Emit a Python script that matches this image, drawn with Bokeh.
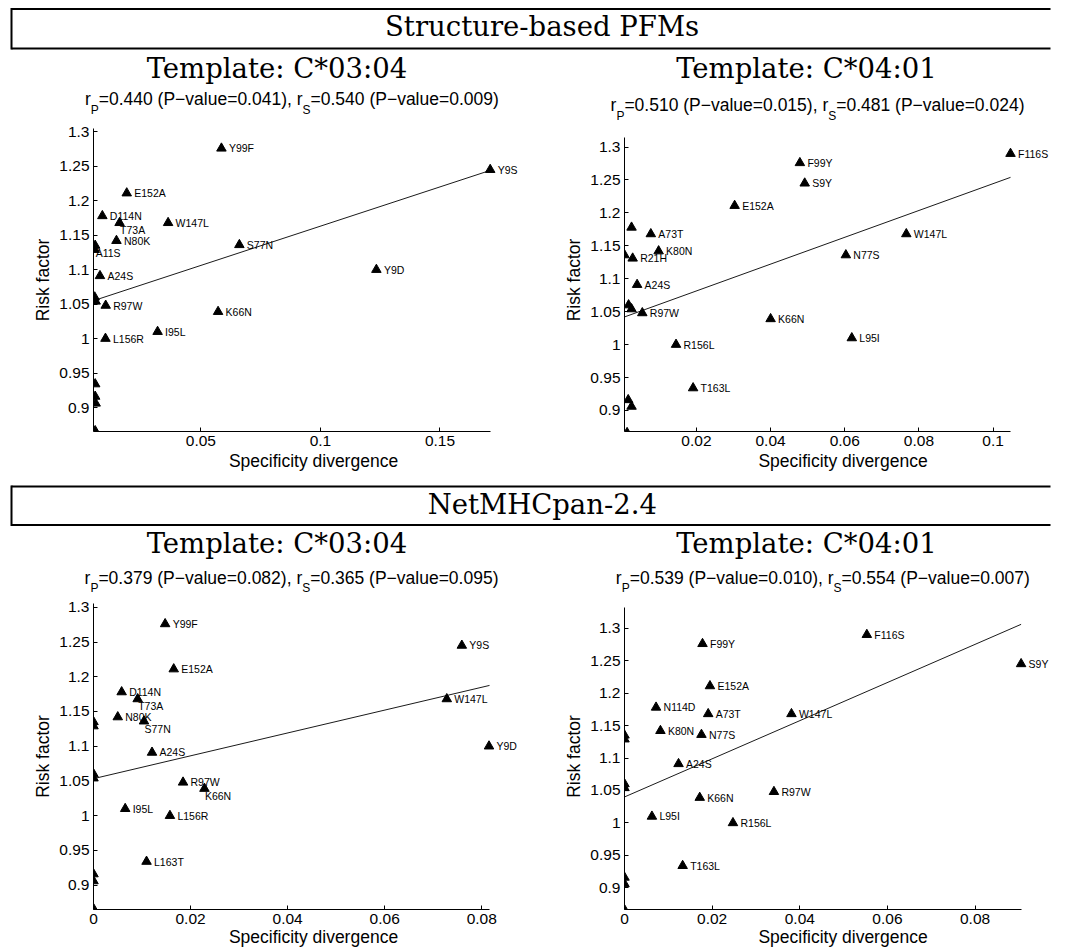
from bokeh.plotting import figure
from bokeh.models import Range1d, FixedTicker, LabelSet, ColumnDataSource
from bokeh.layouts import column, row
from bokeh.embed import file_html
from bokeh.resources import INLINE
from bokeh.core.properties import value

# ---------------- data ----------------
header_top = "Structure-based PFMs"
header_bottom = "NetMHCpan-2.4"
x_label = "Specificity divergence"
y_label = "Risk factor"

y_ticks = [0.9, 0.95, 1.0, 1.05, 1.1, 1.15, 1.2, 1.25, 1.3]
y_tick_labels = ["0.9", "0.95", "1", "1.05", "1.1", "1.15", "1.2", "1.25", "1.3"]

# Panel 1: Structure-based PFMs, template C*03:04
p1_title = "Template: C*03:04"
p1_stats = [0.440, 0.041, 0.540, 0.009]
p1_labels = ["Y99F", "Y9S", "E152A", "D114N", "T73A", "W147L", "N80K", "S77N", "A11S", "",
             "Y9D", "A24S", "", "", "R97W", "K66N", "I95L", "L156R", "", "", "", ""]
p1_x = [0.0586, 0.1710, 0.0190, 0.0088, 0.0160, 0.0363, 0.0147, 0.0661, 0.0058, 0.0056,
        0.1234, 0.0078, 0.0056, 0.0060, 0.0102, 0.0572, 0.0319, 0.0101, 0.0058, 0.0058, 0.0060, 0.0058]
p1_y = [1.276, 1.245, 1.211, 1.178, 1.168, 1.168, 1.142, 1.136, 1.135, 1.129,
        1.100, 1.091, 1.060, 1.054, 1.048, 1.039, 1.010, 1.000, 0.934, 0.916, 0.906, 0.866]
p1_fit_x = [0.0051, 0.1710]
p1_fit_y = [1.055, 1.244]
p1_xlim = [0.0051, 0.1710]
p1_ylim = [0.8652, 1.3048]
p1_xticks = [0.05, 0.1, 0.15]
p1_xtick_labels = ["0.05", "0.1", "0.15"]

# Panel 2: Structure-based PFMs, template C*04:01
p2_title = "Template: C*04:01"
p2_stats = [0.510, 0.015, 0.481, 0.024]
p2_labels = ["F99Y", "F116S", "S9Y", "E152A", "", "A73T", "K80N", "", "R21H", "A24S",
             "", "", "R97W", "K66N", "R156L", "L95I", "T163L", "W147L", "N77S", "", "", ""]
p2_x = [0.0479, 0.1047, 0.0492, 0.0303, 0.0025, 0.0077, 0.0098, 0.0006, 0.0028, 0.0040,
        0.0017, 0.0025, 0.0054, 0.0400, 0.0145, 0.0619, 0.0191, 0.0766, 0.0603, 0.0016, 0.0025, 0.0013]
p2_y = [1.276, 1.290, 1.245, 1.211, 1.178, 1.168, 1.142, 1.136, 1.131, 1.091,
        1.060, 1.054, 1.048, 1.039, 1.000, 1.010, 0.934, 1.168, 1.136, 0.916, 0.906, 0.866]
p2_fit_x = [0.0006, 0.1047]
p2_fit_y = [1.042, 1.254]
p2_xlim = [0.0006, 0.1047]
p2_ylim = [0.868, 1.315]
p2_xticks = [0.02, 0.04, 0.06, 0.08, 0.1]
p2_xtick_labels = ["0.02", "0.04", "0.06", "0.08", "0.1"]

# Panel 3: NetMHCpan-2.4, template C*03:04
p3_title = "Template: C*03:04"
p3_stats = [0.379, 0.082, 0.365, 0.095]
p3_labels = ["Y99F", "Y9S", "E152A", "D114N", "T73A", "W147L", "N80K", "S77N", "", "",
             "Y9D", "A24S", "", "", "R97W", "K66N", "I95L", "L156R", "L163T", "", "", ""]
p3_x = [0.01476, 0.0759, 0.01653, 0.0058, 0.0091, 0.0728, 0.0050, 0.0104, 0.0, 0.0,
        0.0815, 0.01206, 0.0, 0.0, 0.01845, 0.02286, 0.00653, 0.01575, 0.01093, 0.0, 0.0, 0.0]
p3_y = [1.276, 1.245, 1.211, 1.178, 1.168, 1.168, 1.142, 1.136, 1.135, 1.129,
        1.100, 1.091, 1.060, 1.054, 1.048, 1.039, 1.010, 1.000, 0.934, 0.916, 0.906, 0.866]
p3_fit_x = [0.0, 0.0816]
p3_fit_y = [1.0533, 1.1875]
p3_xlim = [0.0, 0.0816]
p3_ylim = [0.865, 1.305]
p3_xticks = [0.0, 0.02, 0.04, 0.06, 0.08]
p3_xtick_labels = ["0", "0.02", "0.04", "0.06", "0.08"]

# Panel 4: NetMHCpan-2.4, template C*04:01
p4_title = "Template: C*04:01"
p4_stats = [0.539, 0.010, 0.554, 0.007]
p4_labels = ["F99Y", "F116S", "S9Y", "E152A", "N114D", "A73T", "W147L", "K80N", "N77S", "", "",
             "A24S", "", "", "R97W", "K66N", "L95I", "R156L", "T163L", "", "", ""]
p4_x = [0.0178, 0.0553, 0.0905, 0.0195, 0.0072, 0.0191, 0.0381, 0.0082, 0.01756, 0.0, 0.0,
        0.01233, 0.0, 0.0, 0.0341, 0.01717, 0.00626, 0.02475, 0.01327, 0.0, 0.0, 0.0]
p4_y = [1.276, 1.290, 1.245, 1.211, 1.178, 1.168, 1.168, 1.142, 1.136, 1.135, 1.129,
        1.091, 1.060, 1.054, 1.048, 1.039, 1.010, 1.000, 0.934, 0.916, 0.906, 0.866]
p4_fit_x = [0.0, 0.0905]
p4_fit_y = [1.040, 1.306]
p4_xlim = [0.0, 0.0905]
p4_ylim = [0.8666, 1.3324]
p4_xticks = [0.0, 0.02, 0.04, 0.06, 0.08]
p4_xtick_labels = ["0", "0.02", "0.04", "0.06", "0.08"]

# ---------------- layout (pixel positions on the page) ----------------
SANS = "Liberation Sans"
SERIF = "DejaVu Serif"
SERIF_SIZE = 27.5
STAT_SIZE = 17.5
SUB_SIZE = 12.0
SUB_DROP = 8.5
MID_SANS = 0.3465      # baseline -> middle, Liberation Sans (em)
MID_SERIF = 0.346      # baseline -> middle, DejaVu Serif (em)

TOTAL_W = 1065

panel_cfg = {
    # fig: (x, y, w, h); frame: (left, top, width, height)
    # x_end / y_top: page pixel of xlim[1] / ylim[1]
    "p1": dict(fig=(0, 123, 538, 361), frame=(93, 128, 440, 303), x_end=489.7, y_top=128.0,
               title=(276.5, 77.0), stats=105.0, below={"T73A", "A11S"}, xlab_standoff=2),
    "p2": dict(fig=(538, 123, 527, 361), frame=(624, 128, 437, 303), x_end=1010.0, y_top=136.7,
               title=(806.0, 77.0), stats=111.0, below=set(), xlab_standoff=2),
    "p3": dict(fig=(0, 595, 538, 355), frame=(93, 603, 440, 306), x_end=489.0, y_top=603.3,
               title=(276.5, 552.0), stats=583.3, below={"T73A", "S77N", "K66N"}, xlab_standoff=0),
    "p4": dict(fig=(538, 595, 527, 355), frame=(624, 603, 437, 306), x_end=1020.6, y_top=606.7,
               title=(806.0, 552.0), stats=583.3, below=set(), xlab_standoff=0),
}

ARIAL_W = {' ': 278, '(': 333, ')': 333, ',': 278, '.': 278, '=': 584, 'P': 667, 'S': 667,
           'a': 556, 'e': 556, 'l': 222, 'r': 333, 'u': 556, 'v': 500, '\u2212': 584}


def text_width(s, size):
    return sum(ARIAL_W.get(ch, 556) for ch in s) * size / 1000.0


def make_panel(cfg, labels, xs, ys, fit_x, fit_y, xlim, ylim, xticks, xtick_labels):
    ox, oy, W, H = cfg["fig"]
    fl, ft, fw, fh = cfg["frame"]
    fb = ft + fh
    ppx = (cfg["x_end"] - fl) / (xlim[1] - xlim[0])
    ppy = (fb - cfg["y_top"]) / (ylim[1] - ylim[0])
    x0 = xlim[0]
    x1 = x0 + fw / ppx
    y0 = ylim[0]
    y1 = ylim[1] + (cfg["y_top"] - ft) / ppy

    p = figure(width=W, height=H, x_range=Range1d(x0, x1), y_range=Range1d(y0, y1),
               output_backend="svg", toolbar_location=None,
               min_border_left=fl - ox, min_border_top=ft - oy,
               min_border_right=ox + W - fl - fw, min_border_bottom=oy + H - fb)
    p.grid.visible = False
    p.outline_line_color = None
    p.background_fill_color = "white"
    p.border_fill_color = "white"

    xa = p.xaxis[0]
    ya = p.yaxis[0]
    xa.bounds = (xlim[0], xlim[1])
    ya.bounds = (ylim[0], ylim[1])
    xa.ticker = FixedTicker(ticks=xticks)
    ya.ticker = FixedTicker(ticks=y_ticks)
    xa.major_label_overrides = dict(zip(xticks, xtick_labels))
    ya.major_label_overrides = dict(zip(y_ticks, y_tick_labels))
    for ax in (xa, ya):
        ax.axis_line_color = "black"
        ax.axis_line_width = 1
        ax.major_tick_line_color = "black"
        ax.major_tick_line_width = 1
        ax.major_tick_in = 4
        ax.major_tick_out = 0
        ax.minor_tick_line_color = None
        ax.major_label_text_font = SANS
        ax.major_label_text_font_size = "15.5px"
        ax.major_label_text_color = "black"
        ax.major_label_standoff = 4
        ax.axis_label_text_font = SANS
        ax.axis_label_text_font_size = "17.5px"
        ax.axis_label_text_font_style = "normal"
        ax.axis_label_text_color = "black"
    ya.axis_label = y_label
    ya.axis_label_standoff = 3
    xa.axis_label = x_label
    xa.axis_label_standoff = cfg["xlab_standoff"]

    # regression line
    p.line(fit_x, fit_y, line_color="#1a1a1a", line_width=1)

    # points
    src = ColumnDataSource(dict(x=xs, y=ys, label=labels))
    p.scatter("x", "y", source=src, marker="triangle", size=9.5,
              fill_color="black", line_color="black")

    # point labels (most to the right of the point, a few just below it)
    nx, ny, nl, bx, by, bl = [], [], [], [], [], []
    for lab, xv, yv in zip(labels, xs, ys):
        if not lab:
            continue
        if lab in cfg["below"]:
            bx.append(xv)
            by.append(yv - 7.5 / ppy)
            bl.append(lab)
        else:
            nx.append(xv)
            ny.append(yv)
            nl.append(lab)
    for sx, sy, sl, off in ((nx, ny, nl, 7.5), (bx, by, bl, 0.5)):
        if not sl:
            continue
        ls = LabelSet(x="x", y="y", text="label", x_offset=off,
                      source=ColumnDataSource(dict(x=sx, y=sy, label=sl)),
                      text_font=value(SANS), text_font_size="10.5px",
                      text_baseline="middle", text_align="left", text_color="black")
        p.add_layout(ls)
    return p


def make_header(text, top, H, box_top, box_bottom, text_cx, text_base, panels):
    """A strip holding the boxed section header and the two panel titles."""
    p = figure(width=TOTAL_W, height=H, x_range=Range1d(0, TOTAL_W), y_range=Range1d(H, 0),
               output_backend="svg", toolbar_location=None, min_border=0,
               x_axis_type=None, y_axis_type=None)
    p.grid.visible = False
    p.outline_line_color = None
    p.background_fill_color = "white"
    p.border_fill_color = "white"
    bt, bb = box_top - top, box_bottom - top
    right = 1050
    # open-ended box: top, bottom and left edges
    p.segment(x0=[11, 11, 11], y0=[bt, bb, bt - 1], x1=[right, right, 11], y1=[bt, bb, bb + 1],
              line_color="black", line_width=2)
    p.text(x=[text_cx], y=[text_base - top - MID_SERIF * SERIF_SIZE], text=[text],
           text_font=value(SERIF), text_font_size="%gpx" % SERIF_SIZE,
           text_align="center", text_baseline="middle", text_color="black")
    for cfg, title, stats in panels:
        tcx, tby = cfg["title"]
        p.text(x=[tcx], y=[tby - top - MID_SERIF * SERIF_SIZE], text=[title],
               text_font=value(SERIF), text_font_size="%gpx" % SERIF_SIZE,
               text_align="center", text_baseline="middle", text_color="black")
        rp, pp, rs, ps = stats
        segs = [("r", False), ("P", True),
                ("=%.3f (P\u2212value=%.3f), r" % (rp, pp), False), ("S", True),
                ("=%.3f (P\u2212value=%.3f)" % (rs, ps), False)]
        widths = [text_width(s, SUB_SIZE if sub else STAT_SIZE) for s, sub in segs]
        fl = cfg["frame"][0]
        cx = (fl + cfg["x_end"]) / 2.0
        xcur = cx - sum(widths) / 2.0
        base = cfg["stats"] - top
        for (s, sub), w in zip(segs, widths):
            if sub:
                yy = base + SUB_DROP - MID_SANS * SUB_SIZE
                fs = SUB_SIZE
            else:
                yy = base - MID_SANS * STAT_SIZE
                fs = STAT_SIZE
            p.text(x=[xcur], y=[yy], text=[s], text_font=value(SANS),
                   text_font_size="%gpx" % fs, text_align="left",
                   text_baseline="middle", text_color="black")
            xcur += w
    return p


h1 = make_header(header_top, 0, 123, 8.5, 48.0, 541.6, 35.0,
                 [(panel_cfg["p1"], p1_title, p1_stats), (panel_cfg["p2"], p2_title, p2_stats)])
h2 = make_header(header_bottom, 484, 111, 486.0, 524.5, 541.8, 513.3,
                 [(panel_cfg["p3"], p3_title, p3_stats), (panel_cfg["p4"], p4_title, p4_stats)])

p1 = make_panel(panel_cfg["p1"], p1_labels, p1_x, p1_y, p1_fit_x, p1_fit_y,
                p1_xlim, p1_ylim, p1_xticks, p1_xtick_labels)
p2 = make_panel(panel_cfg["p2"], p2_labels, p2_x, p2_y, p2_fit_x, p2_fit_y,
                p2_xlim, p2_ylim, p2_xticks, p2_xtick_labels)
p3 = make_panel(panel_cfg["p3"], p3_labels, p3_x, p3_y, p3_fit_x, p3_fit_y,
                p3_xlim, p3_ylim, p3_xticks, p3_xtick_labels)
p4 = make_panel(panel_cfg["p4"], p4_labels, p4_x, p4_y, p4_fit_x, p4_fit_y,
                p4_xlim, p4_ylim, p4_xticks, p4_xtick_labels)

page = column(h1, row(p1, p2, spacing=0), h2, row(p3, p4, spacing=0), spacing=0)
open("out.html", "w").write(file_html(page, INLINE))
